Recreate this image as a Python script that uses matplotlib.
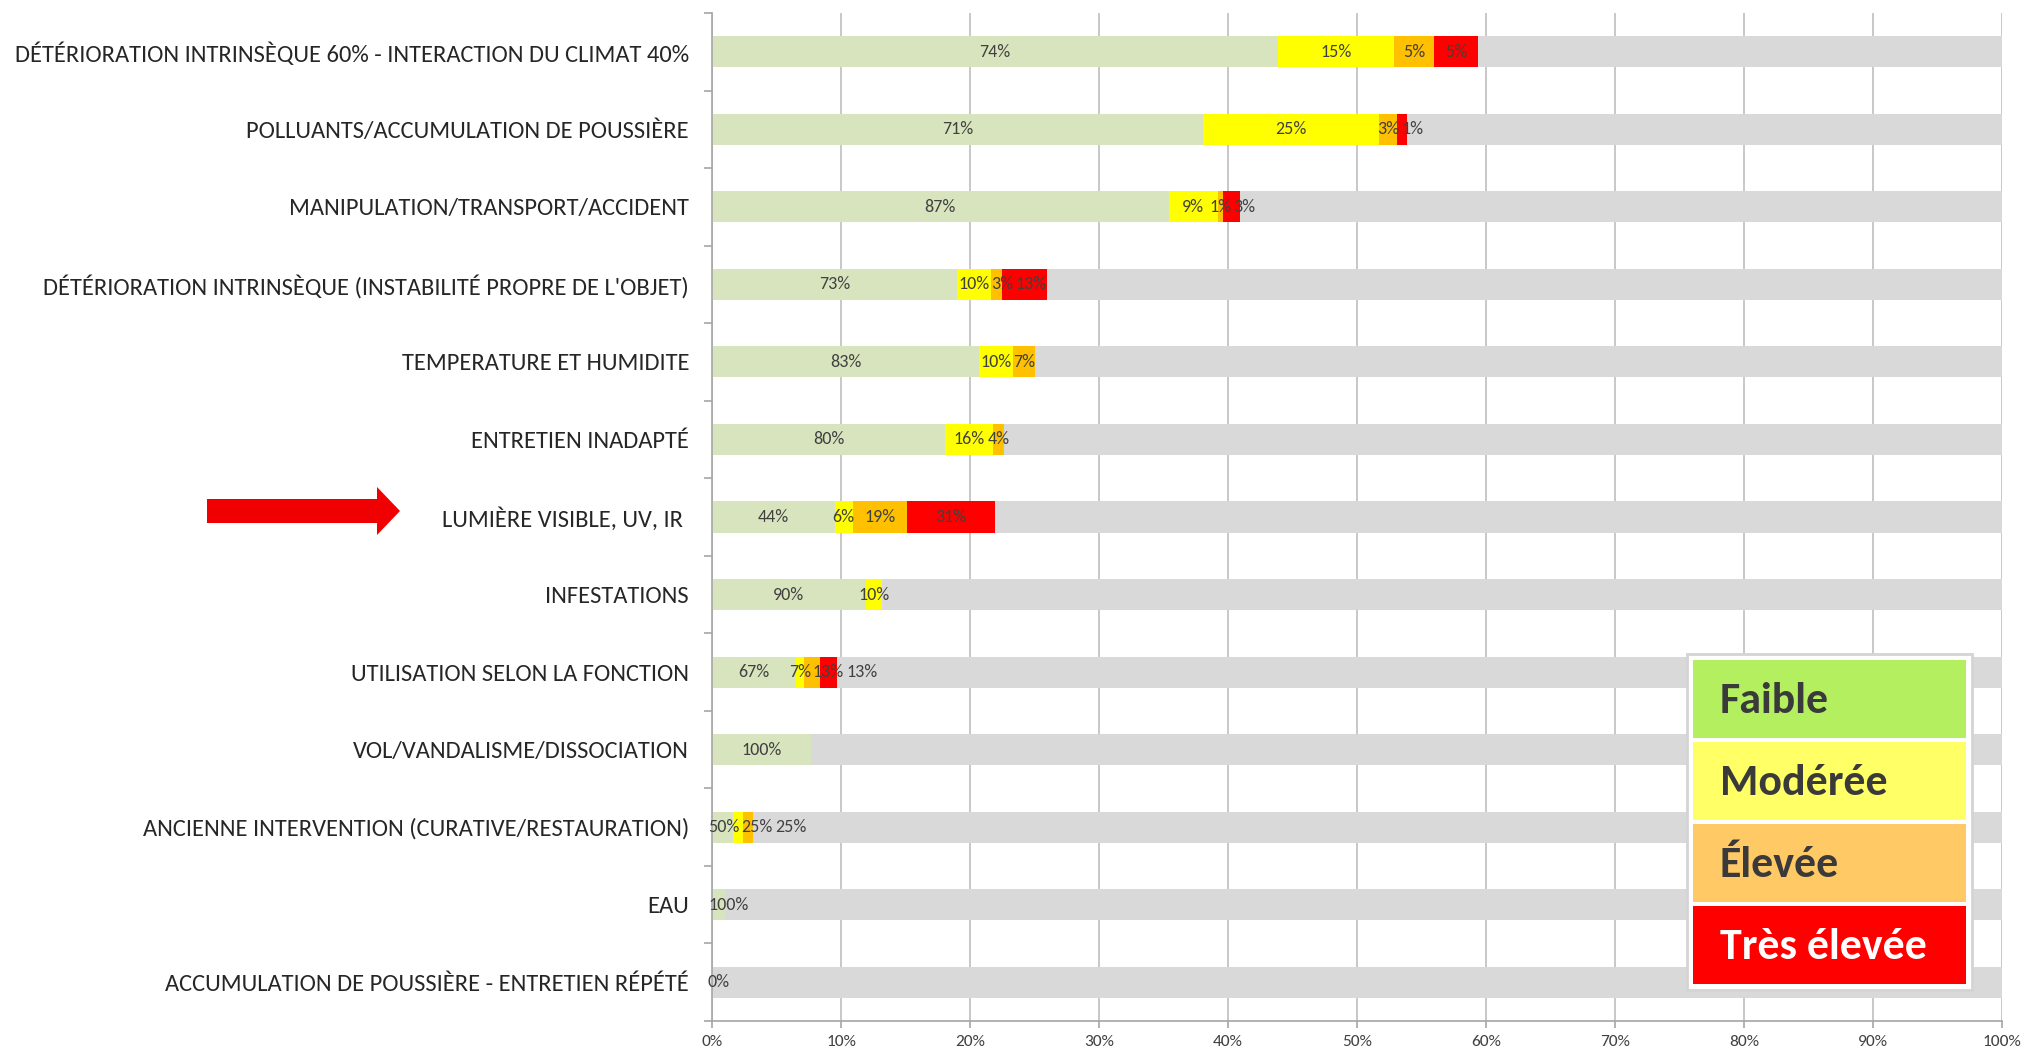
import numpy as np
import matplotlib
matplotlib.use("Agg")
import matplotlib.pyplot as plt
from matplotlib import font_manager as fm
from matplotlib.patches import Rectangle, Polygon

# ---------------- data ----------------
categories = [
    "DÉTÉRIORATION INTRINSÈQUE 60% - INTERACTION DU CLIMAT 40%",
    "POLLUANTS/ACCUMULATION DE POUSSIÈRE",
    "MANIPULATION/TRANSPORT/ACCIDENT",
    "DÉTÉRIORATION INTRINSÈQUE (INSTABILITÉ PROPRE DE L'OBJET)",
    "TEMPERATURE ET HUMIDITE",
    "ENTRETIEN INADAPTÉ",
    "LUMIÈRE VISIBLE, UV, IR ",
    "INFESTATIONS",
    "UTILISATION SELON LA FONCTION",
    "VOL/VANDALISME/DISSOCIATION",
    "ANCIENNE INTERVENTION (CURATIVE/RESTAURATION)",
    "EAU",
    "ACCUMULATION DE POUSSIÈRE - ENTRETIEN RÉPÉTÉ",
]

# bar segment lengths on the 0-100 % axis
faible      = [43.9, 38.1, 35.4, 19.0, 20.7, 18.1, 9.5, 11.9, 6.5, 7.7, 1.6, 1.0, 0.0]
moderee     = [9.0, 13.6, 3.8, 2.6, 2.6, 3.7, 1.4, 1.3, 0.6, 0.0, 0.8, 0.0, 0.0]
elevee      = [3.1, 1.4, 0.4, 0.9, 1.7, 0.8, 4.2, 0.0, 1.3, 0.0, 0.8, 0.0, 0.0]
tres_elevee = [3.4, 0.8, 1.3, 3.5, 0.0, 0.0, 6.8, 0.0, 1.3, 0.0, 0.0, 0.0, 0.0]

# data labels (share of each bar, %)
nan = np.nan
pct_faible      = [74, 71, 87, 73, 83, 80, 44, 90, 67, 100, 50, 100, 0]
pct_moderee     = [15, 25, 9, 10, 10, 16, 6, 10, 7, nan, 25, nan, nan]
pct_elevee      = [5, 3, 1, 3, 7, 4, 19, nan, 13, nan, 25, nan, nan]
pct_tres_elevee = [5, 1, 3, 13, nan, nan, 31, nan, 13, nan, nan, nan, nan]

levels = ["Faible", "Modérée", "Élevée", "Très élevée"]
bar_colors = ["#D7E4BD", "#FFFF00", "#FFC000", "#FF0000"]
rest_color = "#D9D9D9"
legend_colors = ["#B3EF5F", "#FFFF66", "#FFC966", "#FF0000"]
legend_text_colors = ["#3A3A3A", "#3A3A3A", "#3A3A3A", "#FFFFFF"]

xticks = list(range(0, 101, 10))
xtick_labels = [f"{v}%" for v in xticks]
highlight = "LUMIÈRE VISIBLE, UV, IR "

# ---------------- fonts ----------------
avail = {f.name for f in fm.fontManager.ttflist}
FAM = "DejaVu Sans"
for cand in ["Carlito", "Calibri", "Liberation Sans Narrow", "Open Sans", "Lato"]:
    if cand in avail:
        FAM = cand
        break

W, H = 2027, 1052
fig = plt.figure(figsize=(W / 100, H / 100), dpi=100)
fig.patch.set_facecolor("white")
renderer = fig.canvas.get_renderer()


def text_width(text, size, weight="normal"):
    t = fig.text(0, 0, text, fontsize=size, family=FAM, weight=weight)
    w = t.get_window_extent(renderer).width
    t.remove()
    return w


def fit_size(text, target_px, weight="normal"):
    return 20 * target_px / text_width(text, 20, weight)


cat_fs = fit_size(categories[0], 676)
lab_fs = fit_size("74%", 31)
tick_fs = fit_size("100%", 39)
leg_fs = fit_size("Très élevée", 207, "bold")

# ---------------- axes ----------------
ax = fig.add_axes([712 / W, 1 - 1021 / H, (2002 - 712) / W, (1021 - 13) / H])
n = len(categories)
y = np.arange(n)
ax.set_xlim(0, 100)
ax.set_ylim(n - 0.5, -0.5)

series = [np.array(faible), np.array(moderee), np.array(elevee), np.array(tres_elevee)]
pcts = [pct_faible, pct_moderee, pct_elevee, pct_tres_elevee]

left = np.zeros(n)
for vals, col in zip(series, bar_colors):
    ax.barh(y, vals, left=left, height=0.4, color=col, lw=0, zorder=2)
    left = left + vals
total = left.copy()
ax.barh(y, 100 - total, left=total, height=0.4, color=rest_color, lw=0, zorder=2)

# data labels: centred, nudged right to avoid collisions
x0_px = ax.transData.transform((0, 0))[0]
inv = ax.transData.inverted()
for i in range(n):
    prev_right = -1e9
    start = 0.0
    for k in range(4):
        v = series[k][i]
        p = pcts[k][i]
        if not np.isnan(p):
            txt = f"{int(p)}%"
            cx = ax.transData.transform((start + v / 2, i))[0]
            w = text_width(txt, lab_fs)
            lx = max(cx - w / 2, x0_px - 4, prev_right + 2)
            xd = inv.transform((lx, 0))[0]
            ax.text(xd, i, txt, ha="left", va="center", fontsize=lab_fs,
                    color="#404040", family=FAM, zorder=4, clip_on=False)
            prev_right = lx + w
        start += v

ax.xaxis.grid(True, color="#BFBFBF", lw=1.2)
ax.set_axisbelow(True)
for s in ["top", "right"]:
    ax.spines[s].set_visible(False)
for s in ["left", "bottom"]:
    ax.spines[s].set_color("#A6A6A6")
    ax.spines[s].set_linewidth(1.2)

ax.set_xticks(xticks)
ax.set_xticklabels(xtick_labels, fontsize=tick_fs, family=FAM, color="#404040")
ax.tick_params(axis="x", length=5, color="#A6A6A6", width=1.2, pad=5)

ax.set_yticks(y)
ax.set_yticklabels(categories, fontsize=cat_fs, family=FAM, color="#262626")
ax.tick_params(axis="y", which="major", length=0, pad=23 * 0.72)
ax.set_yticks(np.arange(-0.5, n), minor=True)
ax.tick_params(axis="y", which="minor", length=6, color="#A6A6A6", width=1.2,
               direction="out")

# ---------------- arrow ----------------
row = categories.index(highlight)
yc = ax.transData.transform((0, row))[1] + 6
ptsx = [207, 377, 377, 400, 377, 377, 207]
ptsy = [yc + 12, yc + 12, yc + 24, yc, yc - 24, yc - 12, yc - 12]
arrow = Polygon(np.column_stack([np.array(ptsx) / W, np.array(ptsy) / H]),
                closed=True, fc="#F00000", ec="none", transform=fig.transFigure)
fig.add_artist(arrow)

# ---------------- legend ----------------
lx0, lx1 = 1693, 1966
box = Rectangle((1687 / W, 1 - 990 / H), (1972 - 1687) / W, (990 - 654) / H,
                fc="white", ec="#D4D4D4", lw=2, transform=fig.transFigure, zorder=5)
fig.add_artist(box)
top = 660
rh, gap = 78, 4
for k, (lab, col, tcol) in enumerate(zip(levels, legend_colors, legend_text_colors)):
    t0 = top + k * (rh + gap)
    r = Rectangle((lx0 / W, 1 - (t0 + rh) / H), (lx1 - lx0) / W, rh / H,
                  fc=col, ec="none", transform=fig.transFigure, zorder=6)
    fig.add_artist(r)
    fig.text(1720 / W, 1 - (t0 + rh / 2 + 2) / H, lab, fontsize=leg_fs, weight="bold",
             family=FAM, color=tcol, ha="left", va="center", zorder=7)

fig.savefig("out.png", dpi=100, facecolor="white")
